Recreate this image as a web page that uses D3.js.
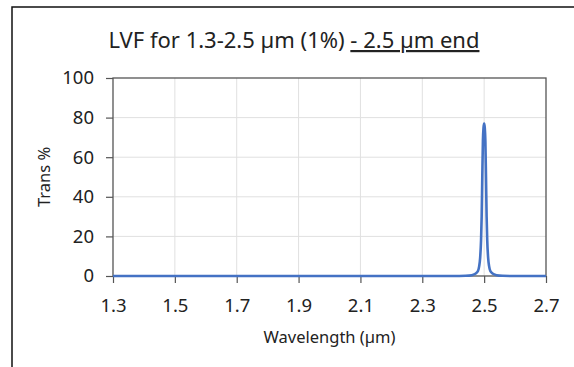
<!DOCTYPE html>
<html>
<head>
<meta charset="utf-8">
<script src="https://cdn.jsdelivr.net/npm/d3@7"></script>
<style>
  body { margin: 0; background: #fff; }
  text { font-family: "Noto Sans", sans-serif; fill: #222; }
</style>
</head>
<body>
<div id="chart"></div>
<script>
  // data
  var wavelength = [1.3, 2.40, 2.44, 2.46, 2.47, 2.475, 2.48, 2.484, 2.487, 2.49, 2.492, 2.494, 2.496, 2.498, 2.5,
                    2.502, 2.504, 2.506, 2.508, 2.51, 2.513, 2.516, 2.52, 2.525, 2.53, 2.54, 2.56, 2.6, 2.7];
  var trans      = [0, 0, 0.1, 0.4, 1, 1.6, 2.5, 5, 9, 18, 30, 50, 68, 75, 77,
                    75, 68, 50, 30, 18, 9, 5, 2.5, 1.6, 1, 0.4, 0.1, 0, 0];
  var xTicks = [1.3, 1.5, 1.7, 1.9, 2.1, 2.3, 2.5, 2.7];
  var yTicks = [0, 20, 40, 60, 80, 100];

  var width  = 574,
      height = 367;

  var m = {left: 113, right: 28, top: 78, bottom: 91};

  var svg = d3.select("#chart").append("svg")
    .attr("width", width)
    .attr("height", height);

  // outer chart frame (right and bottom edges run off the picture)
  svg.append("rect")
    .attr("x", 12).attr("y", 7)
    .attr("width", 700).attr("height", 500)
    .attr("fill", "none")
    .attr("stroke", "#111")
    .attr("stroke-width", 1.5);

  var x = d3.scaleLinear().domain([1.3, 2.7]).range([m.left, width - m.right]);
  var y = d3.scaleLinear().domain([0, 100]).range([height - m.bottom, m.top]);

  // gridlines
  svg.append("g")
    .selectAll("line.vg").data(xTicks.slice(1, -1)).enter()
    .append("line")
    .attr("x1", x).attr("x2", x)
    .attr("y1", y(0)).attr("y2", y(100))
    .attr("stroke", "#e0e0e0").attr("stroke-width", 1);

  svg.append("g")
    .selectAll("line.hg").data(yTicks.slice(1, -1)).enter()
    .append("line")
    .attr("x1", x(1.3)).attr("x2", x(2.7))
    .attr("y1", y).attr("y2", y)
    .attr("stroke", "#e0e0e0").attr("stroke-width", 1);

  // plot frame
  svg.append("rect")
    .attr("x", x(1.3)).attr("y", y(100))
    .attr("width", x(2.7) - x(1.3)).attr("height", y(0) - y(100))
    .attr("fill", "none")
    .attr("stroke", "#555")
    .attr("stroke-width", 1.3);

  // axes
  var yAxis = svg.append("g")
    .attr("transform", "translate(" + x(1.3) + ",0)")
    .call(d3.axisLeft(y).tickValues(yTicks).tickSize(7).tickPadding(12));

  var xAxis = svg.append("g")
    .attr("transform", "translate(0," + y(0) + ")")
    .call(d3.axisBottom(x).tickValues(xTicks).tickSize(7).tickPadding(16)
      .tickFormat(d3.format(".1f")));

  [yAxis, xAxis].forEach(function(a){
    a.select(".domain").remove();
    a.selectAll(".tick line").attr("stroke", "#555").attr("stroke-width", 1.2);
    a.selectAll(".tick text")
      .attr("font-family", "Noto Sans, sans-serif")
      .attr("font-size", 18.5)
      .attr("fill", "#222");
  });

  // series
  var line = d3.line()
    .x(function(d, i){ return x(wavelength[i]) })
    .y(function(d){ return y(d) })
    .curve(d3.curveMonotoneX);

  svg.append("path")
    .datum(trans)
    .attr("d", line)
    .attr("fill", "none")
    .attr("stroke", "#4472c4")
    .attr("stroke-width", 2.6)
    .attr("stroke-linejoin", "round");

  // title
  var title = svg.append("text")
    .attr("x", 294).attr("y", 48)
    .attr("text-anchor", "middle")
    .attr("font-size", 22);
  title.append("tspan").text("LVF for 1.3-2.5 µm (1%) ");
  title.append("tspan").attr("text-decoration", "underline").text("- 2.5 µm end");

  // axis titles
  svg.append("text")
    .attr("x", x(2.0)).attr("y", 343)
    .attr("text-anchor", "middle")
    .attr("font-size", 16.5)
    .text("Wavelength (µm)");

  svg.append("text")
    .attr("transform", "translate(50," + y(50) + ") rotate(-90)")
    .attr("text-anchor", "middle")
    .attr("font-size", 16.5)
    .text("Trans %");
</script>
</body>
</html>
